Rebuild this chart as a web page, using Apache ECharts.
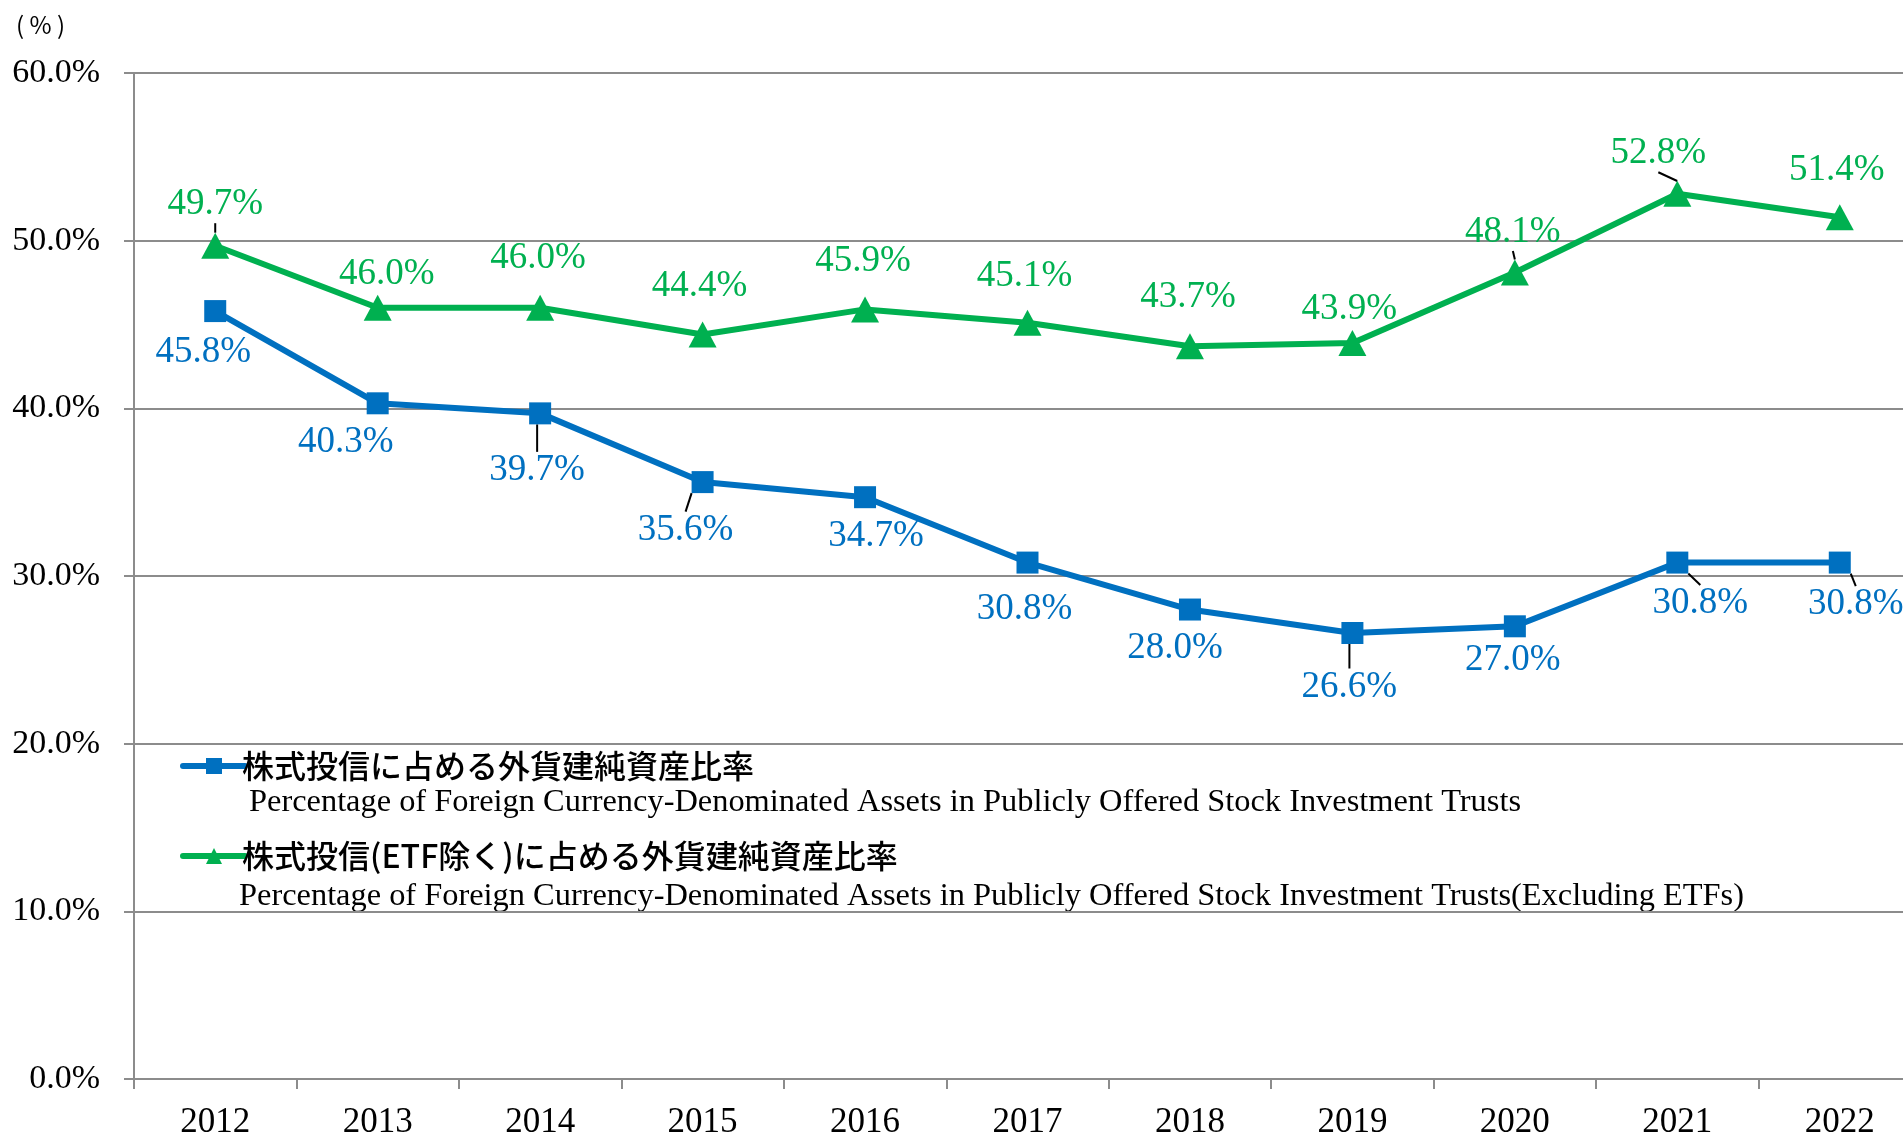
<!DOCTYPE html>
<html>
<head>
<meta charset="utf-8">
<script src="https://cdn.jsdelivr.net/npm/echarts@6/dist/echarts.min.js"></script>
<style>
  html, body { margin: 0; padding: 0; background: #ffffff; }
  #chart { width: 1903px; height: 1135px; }
</style>
</head>
<body>
<div id="chart"></div>
<script>
const years = ["2012", "2013", "2014", "2015", "2016", "2017", "2018", "2019", "2020", "2021", "2022"];
const stockRatio = [45.8, 40.3, 39.7, 35.6, 34.7, 30.8, 28.0, 26.6, 27.0, 30.8, 30.8];
const stockExEtfRatio = [49.7, 46.0, 46.0, 44.4, 45.9, 45.1, 43.7, 43.9, 48.1, 52.8, 51.4];

const stockName = "株式投信に占める外貨建純資産比率";
const stockExEtfName = "株式投信(ETF除く)に占める外貨建純資産比率";
const stockNameEn = "Percentage of Foreign Currency-Denominated Assets in Publicly Offered Stock Investment Trusts";
const stockExEtfNameEn = "Percentage of Foreign Currency-Denominated Assets in Publicly Offered Stock Investment Trusts(Excluding ETFs)";

// label placement (Excel puts them by hand), offsets from each point
const blueLabelOffsets = [[-12, 41], [-32, 39], [-3, 57], [-17, 48], [11, 39], [-3, 47], [-15, 39], [-3, 54], [-2, 34], [23, 41], [16, 42]];
const greenLabelOffsets = [[0, -41], [9, -33], [-2, -49], [-3, -48], [-2, -48], [-3, -47], [-2, -49], [-3, -34], [-2, -40], [-19, -40], [-3, -47]];
const blueLeaders = [2, 3, 7, 9, 10];
const greenLeaders = [0, 8, 9];

const BLUE = "#0070C0";
const GREEN = "#00B050";
const SERIF = "'Liberation Serif', 'Times New Roman', serif";
const GOTHIC = "'Noto Sans CJK JP', sans-serif";

function buildData(values, leaders) {
  return values.map((v, i) => ({
    value: v,
    labelLine: { show: leaders.includes(i) }
  }));
}

function lineSeries(name, values, color, symbol, symbolSize, offsets, leaders) {
  return {
    type: "line",
    name,
    data: buildData(values, leaders),
    symbol,
    symbolSize,
    lineStyle: { color, width: 6 },
    itemStyle: { color },
    label: {
      show: true,
      position: "inside",
      color,
      fontFamily: SERIF,
      fontSize: 37,
      formatter: (p) => p.value.toFixed(1) + "%"
    },
    labelLine: { show: false, lineStyle: { color: "#000000", width: 2 } },
    labelLayout: (p) => ({ dx: offsets[p.dataIndex][0], dy: offsets[p.dataIndex][1] }),
    animation: false
  };
}

const chart = echarts.init(document.getElementById("chart"), null, { renderer: "canvas" });
chart.setOption({
  backgroundColor: "#ffffff",
  grid: { left: 134, top: 73, width: 1787, height: 1006, containLabel: false, outerBoundsMode: "none" },
  xAxis: {
    type: "category",
    data: years,
    boundaryGap: true,
    axisLine: { lineStyle: { color: "#8c8c8c", width: 2 } },
    axisTick: { show: true, length: 10, lineStyle: { color: "#8c8c8c", width: 2 } },
    axisLabel: { color: "#000000", fontFamily: SERIF, fontSize: 35, margin: 26 }
  },
  yAxis: {
    type: "value",
    min: 0,
    max: 60,
    interval: 10,
    axisLine: { show: true, lineStyle: { color: "#8c8c8c", width: 2 } },
    axisTick: { show: true, length: 10, lineStyle: { color: "#8c8c8c", width: 2 } },
    splitLine: { lineStyle: { color: "#8c8c8c", width: 2 } },
    axisLabel: {
      color: "#000000",
      fontFamily: SERIF,
      fontSize: 34,
      margin: 34,
      formatter: (v) => v.toFixed(1) + "%"
    }
  },
  legend: {
    orient: "vertical",
    left: 175,
    top: 745,
    itemGap: 58,
    itemWidth: 62,
    itemHeight: 20,
    lineStyle: { width: 6, cap: "round" },
    textStyle: { fontFamily: GOTHIC, fontSize: 32, fontWeight: 500, color: "#000000", padding: [0, 0, 0, -8] },
    data: [stockName, stockExEtfName]
  },
  graphic: [
    {
      type: "text",
      left: 16,
      top: 13,
      style: { text: "( % )", font: "24px " + GOTHIC, fill: "#000000" }
    },
    {
      type: "text",
      left: 249,
      top: 786,
      style: { text: stockNameEn, font: "32.4px " + SERIF, fill: "#000000" }
    },
    {
      type: "text",
      left: 239,
      top: 880,
      style: { text: stockExEtfNameEn, font: "32.4px " + SERIF, fill: "#000000" }
    }
  ],
  series: [
    lineSeries(stockName, stockRatio, BLUE, "rect", 22, blueLabelOffsets, blueLeaders),
    lineSeries(stockExEtfName, stockExEtfRatio, GREEN, "triangle", [28, 26], greenLabelOffsets, greenLeaders)
  ]
});
</script>
</body>
</html>
